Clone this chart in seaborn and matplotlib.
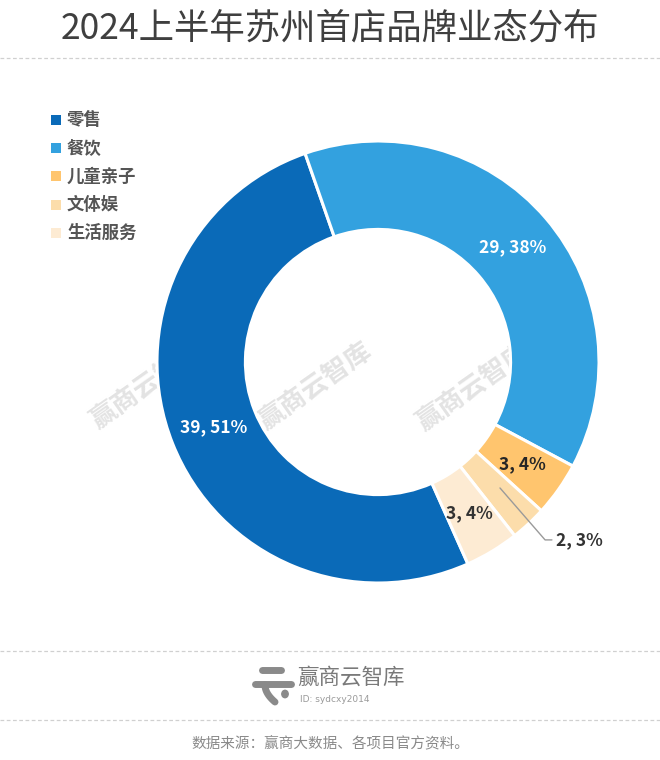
import matplotlib
matplotlib.use("Agg")
import matplotlib.pyplot as plt
import seaborn as sns
from matplotlib.lines import Line2D
from matplotlib.patches import Rectangle, Circle
import numpy as np

categories = ["零售", "餐饮", "儿童亲子", "文体娱", "生活服务"]
values = [39, 29, 3, 2, 3]
percents = ["51%", "38%", "4%", "3%", "4%"]
colors = ["#0A6AB8", "#33A1DF", "#FFC56E", "#FCDDAB", "#FDEBD3"]
title = "2024上半年苏州首店品牌业态分布"
source = "数据来源：赢商大数据、各项目官方资料。"

sns.set_theme(style="white")
plt.rcParams['font.family'] = ['Noto Sans CJK SC', 'DejaVu Sans']

W, H = 660, 760
fig = plt.figure(figsize=(6.6, 7.6), dpi=100)
fig.patch.set_facecolor("white")

def fx(x):
    return np.asarray(x) / W
def fy(y):
    return 1 - np.asarray(y) / H

# title
fig.text(fx(330), fy(29), title, ha="center", va="center", fontsize=25.5,
         color="#3f3f3f")

# dashed separators
for yy in [58, 651, 720]:
    fig.add_artist(Line2D([fx(0), fx(660)], [fy(yy), fy(yy)], color="#d0d0d0",
                          lw=0.9, ls=(0, (3, 2))))

# watermarks (behind)
wm_ax = fig.add_axes([0, 0, 1, 1], zorder=0)
wm_ax.set_xlim(0, W)
wm_ax.set_ylim(H, 0)
wm_ax.axis("off")
for (x, y) in [(148, 386), (316, 387), (474, 388)]:
    wm_ax.text(x, y, "赢商云智库", rotation=35, ha="center", va="center",
               fontsize=19, fontweight="bold", color="#e3e3e3")

# donut
cx, cy, R = 378, 362, 221
ax = fig.add_axes([fx(cx - R), fy(cy + R), 2 * R / W, 2 * R / H], zorder=1)
ax.patch.set_alpha(0)
wedges, _ = ax.pie(values, colors=colors, startangle=-66, counterclock=False,
                   radius=1.0,
                   wedgeprops=dict(width=0.4, edgecolor="white", linewidth=2.2))
ax.set_xlim(-1, 1)
ax.set_ylim(-1, 1)
ax.set_aspect("equal")
ax.axis("off")

label_r = 0.8
label_colors = ["white", "white", "#262626", None, "#333333"]
for i, w in enumerate(wedges):
    ang = np.deg2rad((w.theta1 + w.theta2) / 2)
    x, y = label_r * np.cos(ang), label_r * np.sin(ang)
    txt = f"{values[i]}, {percents[i]}"
    if i == 3:
        ax.plot([0.552, 0.756, 0.787], [-0.570, -0.805, -0.805],
                color="#9a9a9a", lw=1)
        ax.text(0.805, -0.805, txt, ha="left", va="center", fontsize=12.5,
                fontweight="bold", color="#333333")
    else:
        ax.text(x, y, txt, ha="center", va="center", fontsize=12.5,
                fontweight="bold", color=label_colors[i])

# legend
for i, (cat, col) in enumerate(zip(categories, colors)):
    yy = 120 + i * 28.2
    fig.add_artist(Rectangle((fx(51), fy(yy + 5)), 10 / W, 10 / H,
                             facecolor=col, edgecolor="none"))
    fig.text(fx(67), fy(yy), cat, ha="left", va="center", fontsize=12.5,
             fontweight="bold", color="#555555")

# logo
lg = "#8a8a8a"
fig.add_artist(Line2D([fx(262), fx(281)], [fy(670), fy(670)], color=lg, lw=5,
                      solid_capstyle="round"))
fig.add_artist(Line2D([fx(255), fx(291)], [fy(684), fy(684)], color=lg, lw=5,
                      solid_capstyle="round"))
t = np.linspace(0, 1, 30)
xs = 265 + 10 * t ** 2
ys = 685 + 17 * t
fig.add_artist(Line2D(fx(xs), fy(ys), color=lg, lw=5, solid_capstyle="round"))
fig.add_artist(Circle((fx(285), fy(694)), 3.2 / W, color=lg, transform=fig.transFigure))
fig.text(fx(297), fy(678), "赢商云智库", ha="left", va="center", fontsize=15.5,
         color="#7a7a7a")
fig.text(fx(300), fy(700), "ID: sydcxy2014", ha="left", va="center",
         fontsize=6.5, color="#9a9a9a", family=["DejaVu Sans"])

# source
fig.text(fx(330), fy(744), source, ha="center", va="center", fontsize=10.5,
         color="#8a8a8a")

fig.savefig("out.png", dpi=100, facecolor="white")
